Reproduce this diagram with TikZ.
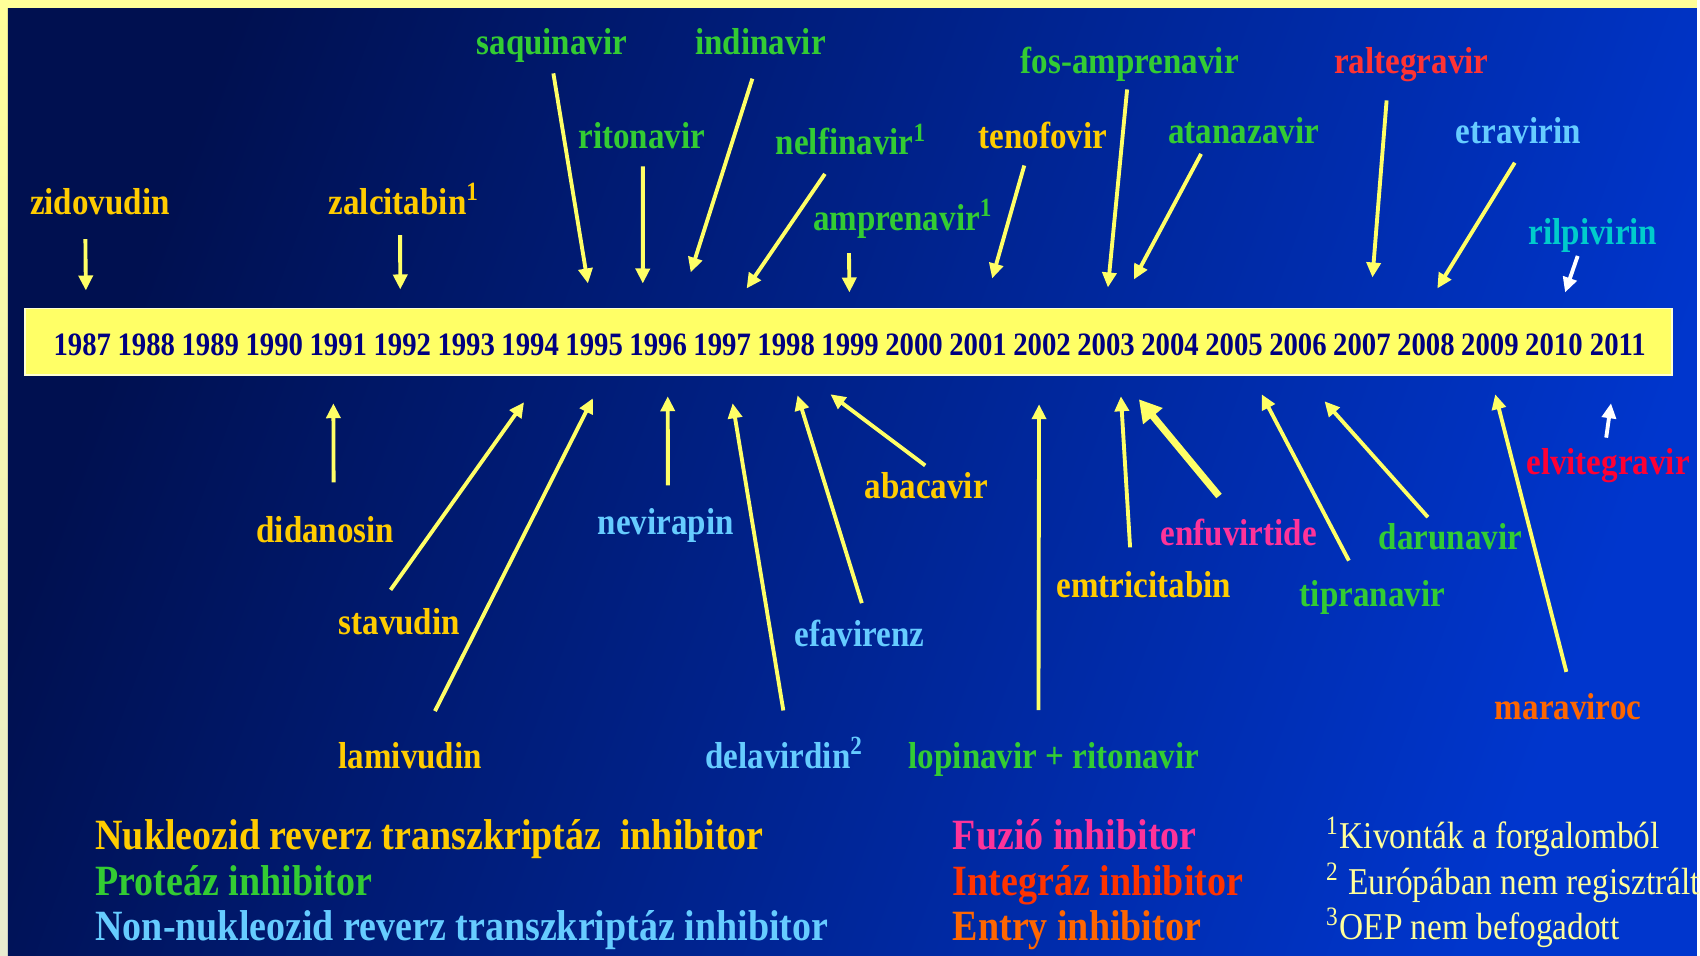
\documentclass[tikz,border=0pt]{standalone}
\usepackage{fontspec}
\setmainfont{Liberation Serif}[FakeStretch=0.88]
\usetikzlibrary{arrows.meta}

\definecolor{nrticol}{RGB}{255,204,0}
\definecolor{protcol}{RGB}{51,204,51}
\definecolor{nnrticol}{RGB}{102,204,255}
\definecolor{fuzcol}{RGB}{255,51,153}
\definecolor{integcol}{RGB}{255,51,0}
\definecolor{entrycol}{RGB}{255,102,0}
\definecolor{rilcol}{RGB}{0,204,204}
\definecolor{ralcol}{RGB}{255,51,51}
\definecolor{elvcol}{RGB}{255,0,51}
\definecolor{arrcol}{RGB}{255,255,102}
\definecolor{barcol}{RGB}{255,255,102}
\definecolor{yearcol}{RGB}{0,0,128}
\definecolor{notecol}{RGB}{255,255,153}
\definecolor{bgdark}{RGB}{0,16,80}
\definecolor{bglight}{RGB}{0,54,205}
\definecolor{rimtop}{RGB}{255,255,153}
\definecolor{rimbot}{RGB}{232,236,208}

\tikzset{
  drug/.style={font=\bfseries\fontsize{10.7}{12}\selectfont, inner sep=0pt, text height=6.6pt, text depth=1.9pt},
  nrti/.style={drug, text=nrticol},
  prot/.style={drug, text=protcol},
  nnrti/.style={drug, text=nnrticol},
  year/.style={font=\bfseries\fontsize{9.3}{11}\selectfont, text=yearcol, inner sep=0pt},
  legend/.style={font=\bfseries\fontsize{12.3}{14}\selectfont, anchor=west, inner sep=0pt, text height=7.6pt, text depth=2.2pt},
  note/.style={font=\fontsize{10.8}{12}\selectfont, text=notecol, anchor=west, inner sep=0pt, text height=6.7pt, text depth=1.9pt},
  arr/.style={draw=arrcol, line width=1.1pt, -{Triangle[length=0.15cm,width=0.14cm]}},
  warr/.style={arr, draw=white},
  fatarr/.style={arr, line width=2pt, -{Triangle[length=0.22cm,width=0.24cm]}}
}

\begin{document}
\begin{tikzpicture}[x=0.01cm, y=-0.01cm]
  % frame and background
  \shade[top color=rimtop, bottom color=rimbot] (0,0) rectangle (1700,957);
  \shade[left color=bgdark, right color=bglight, shading angle=70] (8,9) rectangle (1700,957);

  % year bar
  \draw[fill=barcol, draw=white!70!barcol, line width=0.5pt] (25,309) rectangle (1675,376);
  \foreach \yr [count=\i from 0] in {1987,...,2011}
    \node[year] (y\yr) at (82.5+64.1*\i, 345) {\yr};

  % above the bar
  \node[nrti] (zid) at (100,207) {zidovudin};
  \node[nrti] (zal) at (405,207) {zalcitabin\textsuperscript{1}};
  \node[prot] (saq) at (553,46) {saquinavir};
  \node[prot] (ind) at (762,46) {indinavir};
  \node[prot] (rit) at (643,141) {ritonavir};
  \node[prot] (nel) at (853,147) {nelfinavir\textsuperscript{1}};
  \node[prot] (amp) at (905,223) {amprenavir\textsuperscript{1}};
  \node[nrti] (ten) at (1045,141) {tenofovir};
  \node[prot] (fos) at (1132,65) {fos-amprenavir};
  \node[prot] (ata) at (1246,135) {atanazavir};
  \node[drug, text=ralcol] (ral) at (1414,65) {raltegravir};
  \node[nnrti] (etr) at (1521,135) {etravirin};
  \node[drug, text=rilcol] (ril) at (1596,237) {rilpivirin};

  \coordinate (t-zid) at (86,291);
  \coordinate (t-zal) at (401,290);
  \coordinate (t-saq) at (589,284);
  \coordinate (t-ind) at (692,273);
  \coordinate (t-rit) at (644,284);
  \coordinate (t-nel) at (748,289);
  \coordinate (t-amp) at (851,293);
  \coordinate (t-ten) at (994,279);
  \coordinate (t-fos) at (1110,288);
  \coordinate (t-ata) at (1136,280);
  \coordinate (t-ral) at (1375,278);
  \coordinate (t-etr) at (1440,289);
  \coordinate (t-ril) at (1568,293);

  \draw[arr, shorten <=0.17cm] (zid.-133) -- (t-zid);
  \draw[arr, shorten <=0.13cm] (zal.-105) -- (t-zal);
  \draw[arr, shorten <=0.12cm] (saq.-92) -- (t-saq);
  \draw[arr, shorten <=0.18cm] (ind.-100) -- (t-ind);
  \draw[arr, shorten <=0.10cm] (rit.-86) -- (t-rit);
  \draw[arr, shorten <=0.14cm] (nel.-140) -- (t-nel);
  \draw[arr, shorten <=0.15cm] (amp.-164) -- (t-amp);
  \draw[arr, shorten <=0.095cm] (ten.-136) -- (t-ten);
  \draw[arr, shorten <=0.09cm] (fos.-97) -- (t-fos);
  \draw[arr, shorten <=0.04cm] (ata.-159) -- (t-ata);
  \draw[arr, shorten <=0.2cm] (ral.-146) -- (t-ral);
  \draw[arr, shorten <=0.145cm] (etr.-75) -- (t-etr);
  \draw[warr, shorten <=0.04cm] (ril.-132) -- (t-ril);

  % below the bar
  \node[nrti] (did) at (326,535) {didanosin};
  \node[nrti] (sta) at (400,627) {stavudin};
  \node[nrti] (lam) at (411,762) {lamivudin};
  \node[nnrti] (nev) at (667,527) {nevirapin};
  \node[nrti] (aba) at (928,491) {abacavir};
  \node[nnrti] (del) at (786,762) {delavirdin\textsuperscript{2}};
  \node[nnrti] (efa) at (861,639) {efavirenz};
  \node[prot] (lop) at (1056,762) {lopinavir + ritonavir};
  \node[nrti] (emt) at (1146,590) {emtricitabin};
  \node[drug, text=fuzcol] (enf) at (1241,538) {enfuvirtide};
  \node[prot] (tip) at (1375,599) {tipranavir};
  \node[prot] (dar) at (1453,542) {darunavir};
  \node[drug, text=entrycol] (mar) at (1571,713) {maraviroc};
  \node[drug, text=elvcol] (elv) at (1611,467) {elvitegravir};

  \coordinate (t-did) at (334,404);
  \coordinate (t-sta) at (525,403);
  \coordinate (t-lam) at (594,399);
  \coordinate (t-nev) at (669,397);
  \coordinate (t-aba) at (832,395);
  \coordinate (t-del) at (734,404);
  \coordinate (t-efa) at (799,396);
  \coordinate (t-lop) at (1041,405);
  \coordinate (t-emt) at (1123,397);
  \coordinate (t-enf) at (1141,400);
  \coordinate (t-tip) at (1264,395);
  \coordinate (t-dar) at (1327,402);
  \coordinate (t-mar) at (1498,395);
  \coordinate (t-elv) at (1614,404);

  \draw[arr, shorten <=0.36cm] (did.62) -- (t-did);
  \draw[arr, shorten <=0.25cm] (sta.146) -- (t-sta);
  \draw[arr, shorten <=0.38cm] (lam.64) -- (t-lam);
  \draw[arr, shorten <=0.25cm] (nev.82) -- (t-nev);
  \draw[arr, shorten <=0.15cm] (aba.55) -- (t-aba);
  \draw[arr, shorten <=0.35cm] (del.74) -- (t-del);
  \draw[arr, shorten <=0.2cm] (efa.62) -- (t-efa);
  \draw[arr, shorten <=0.35cm] (lop.135) -- (t-lop);
  \draw[arr, shorten <=0.26cm] (emt.128) -- (t-emt);
  \draw[fatarr, shorten <=0.33cm] (enf.85) -- (t-enf);
  \draw[arr, shorten <=0.245cm] (tip.128) -- (t-tip);
  \draw[arr, shorten <=0.11cm] (dar.134) -- (t-dar);
  \draw[arr, shorten <=0.25cm] (mar.74) -- (t-mar);
  \draw[warr, shorten <=0.13cm] (elv.103) -- (t-elv);

  % legend
  \node[legend, text=nrticol] (lg-nrti) at (95,842) {Nukleozid reverz transzkriptáz\ \ inhibitor};
  \node[legend, text=protcol] (lg-prot) at (95,888) {Proteáz inhibitor};
  \node[legend, text=nnrticol] (lg-nnrti) at (95,933) {Non-nukleozid reverz transzkriptáz inhibitor};
  \node[legend, text=fuzcol] (lg-fuz) at (954,842) {Fuzió inhibitor};
  \node[legend, text=integcol] (lg-integ) at (954,888) {Integráz inhibitor};
  \node[legend, text=entrycol] (lg-entry) at (954,933) {Entry inhibitor};

  % footnotes
  \node[note] (fn1) at (1328,842) {\textsuperscript{1}Kivonták a forgalomból};
  \node[note] (fn2) at (1328,888) {\textsuperscript{2} Európában nem regisztrált};
  \node[note] (fn3) at (1328,933) {\textsuperscript{3}OEP nem befogadott};
\end{tikzpicture}
\end{document}
